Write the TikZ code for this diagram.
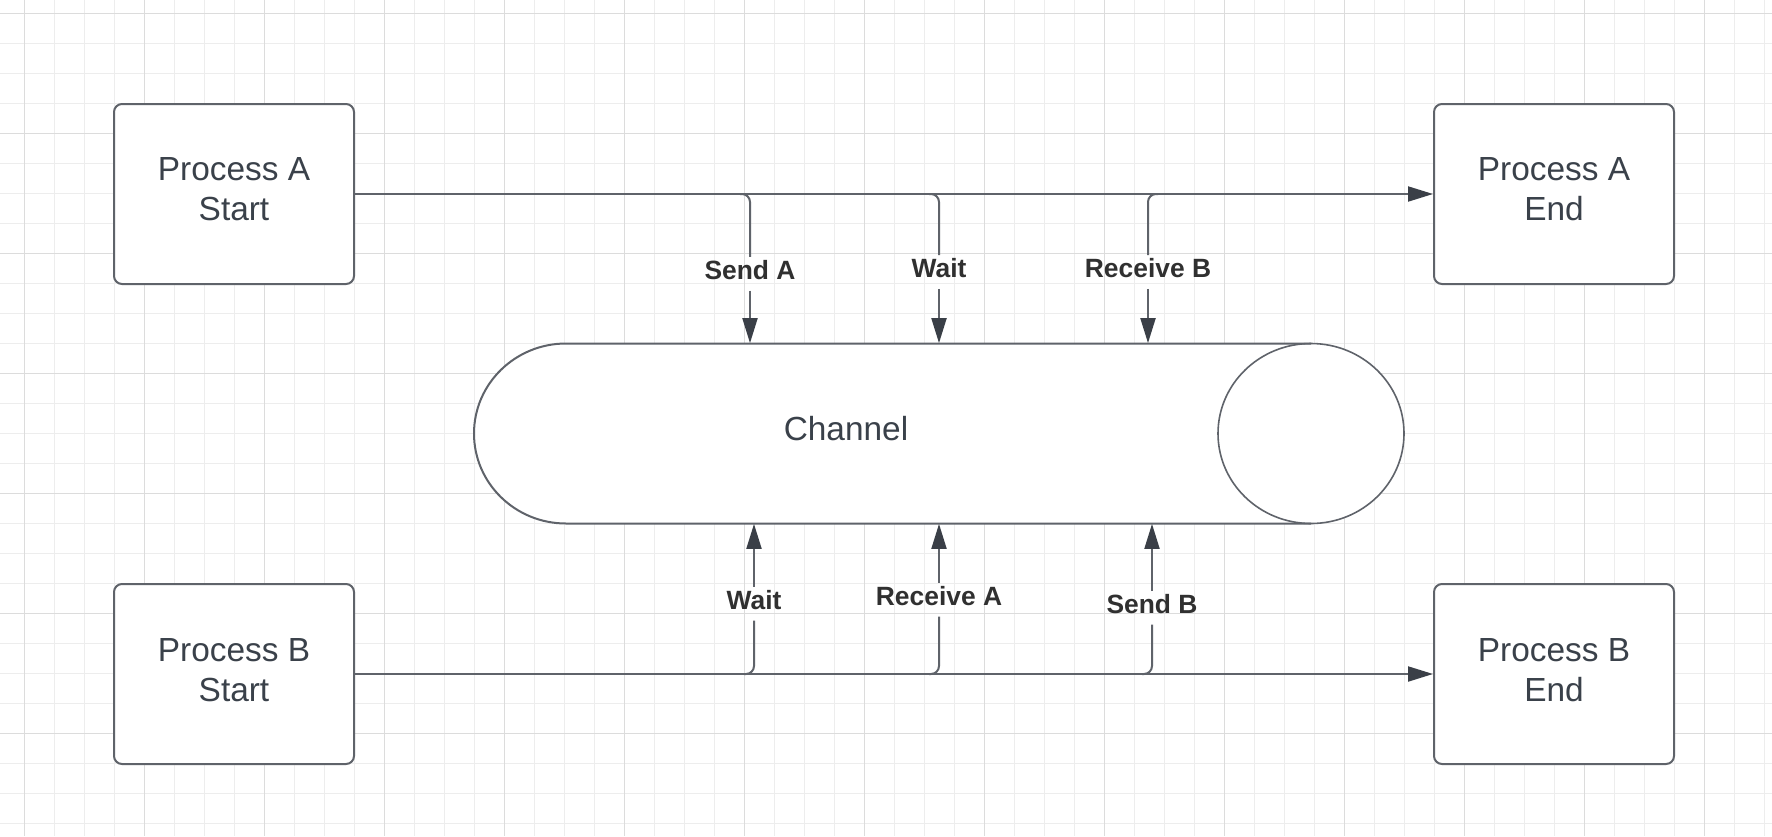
\documentclass[tikz,border=0pt]{standalone}
\usepackage{fontspec}
\setmainfont{Liberation Sans}
\usetikzlibrary{arrows.meta,calc}
\definecolor{gridminor}{HTML}{EDEDED}
\definecolor{gridmajor}{HTML}{DCDCDC}
\definecolor{linec}{HTML}{5F636A}
\definecolor{tipc}{HTML}{3A3F47}
\definecolor{txtc}{HTML}{3A414A}
\definecolor{lblc}{HTML}{303030}
\begin{document}
\begin{tikzpicture}[x=0.5pt,y=-0.5pt,
  proc/.style={draw=linec, line width=1pt, fill=white, rounded corners=4pt, minimum width=120pt, minimum height=90pt, align=center, font=\fontsize{16.7}{20}\selectfont, text=txtc, inner sep=0pt, text depth=4.5pt},
  lbl/.style={font=\bfseries\fontsize{13.2}{15}\selectfont, text=lblc, inner sep=0pt, minimum height=16.4pt, text depth=3.8pt},
  conn/.style={draw=linec, line width=1pt, rounded corners=4pt},
  arr/.style={draw=linec, line width=1pt, -{Triangle[length=12.5pt,width=7.5pt,color=tipc]}},
  minorline/.style={draw=gridminor, line width=0.5pt},
  majorline/.style={draw=gridmajor, line width=0.5pt}
]
\useasboundingbox (0,0) rectangle (1772,836);
\fill[white] (0,0) rectangle (1772,836);
% grid
\foreach \i in {0,...,58} { \draw[minorline] ({24+30*\i},0) -- ({24+30*\i},836); }
\foreach \j in {0,...,27} { \draw[minorline] (0,{13.33+30*\j}) -- (1772,{13.33+30*\j}); }
\foreach \i in {0,...,14} { \draw[majorline] ({24+120*\i},0) -- ({24+120*\i},836); }
\foreach \j in {0,...,6} { \draw[majorline] (0,{13.33+120*\j}) -- (1772,{13.33+120*\j}); }

% process boxes
\node[proc] (as) at (234,194) {Process A\\Start};
\node[proc] (ae) at (1554,194) {Process A\\End};
\node[proc] (bs) at (234,674) {Process B\\Start};
\node[proc] (be) at (1554,674) {Process B\\End};

% channel
\node[minimum width=465pt, minimum height=90pt, inner sep=0pt] (ch) at (938.75,433.5) {};
\fill[white] (1311,343.5) -- (566,343.5) arc[start angle=90, end angle=270, x radius=46pt, y radius=45pt] -- (1311,523.5) arc[start angle=-90, end angle=90, x radius=46.5pt, y radius=45pt];
\draw[linec, line width=1pt] (1311,343.5) -- (566,343.5) arc[start angle=90, end angle=270, x radius=46pt, y radius=45pt] -- (1311,523.5);
\draw[linec, line width=0.8pt] (1311,433.5) ellipse[x radius=46.5pt, y radius=45pt];
\node[font=\fontsize{16.7}{20}\selectfont, text=txtc, inner sep=0pt] (chl) at (846,429) {Channel};

% main lines
\draw[arr] (as.east) -- (ae.west);
\draw[arr] (bs.east) -- (be.west);

% top labels and connectors
\node[lbl] (sa) at (750,273.7) {Send A};
\node[lbl] (wa) at (939,272) {Wait};
\node[lbl] (rb) at (1148,272) {Receive B};
\draw[conn] ($(sa.north |- as.east)+(-10,0)$) -| (sa.north);
\draw[arr] (sa.south) -- (sa.south |- ch.north);
\draw[conn] ($(wa.north |- as.east)+(-10,0)$) -| (wa.north);
\draw[arr] (wa.south) -- (wa.south |- ch.north);
\draw[conn] ($(rb.north |- as.east)+(10,0)$) -| (rb.north);
\draw[arr] (rb.south) -- (rb.south |- ch.north);

% bottom labels and connectors
\node[lbl] (wb) at (754,603.7) {Wait};
\node[lbl] (ra) at (939,599.7) {Receive A};
\node[lbl] (sb) at (1152,607.8) {Send B};
\draw[conn] ($(wb.south |- bs.east)+(-10,0)$) -| (wb.south);
\draw[arr] (wb.north) -- (wb.north |- ch.south);
\draw[conn] ($(ra.south |- bs.east)+(-10,0)$) -| (ra.south);
\draw[arr] (ra.north) -- (ra.north |- ch.south);
\draw[conn] ($(sb.south |- bs.east)+(-10,0)$) -| (sb.south);
\draw[arr] (sb.north) -- (sb.north |- ch.south);
\end{tikzpicture}
\end{document}
